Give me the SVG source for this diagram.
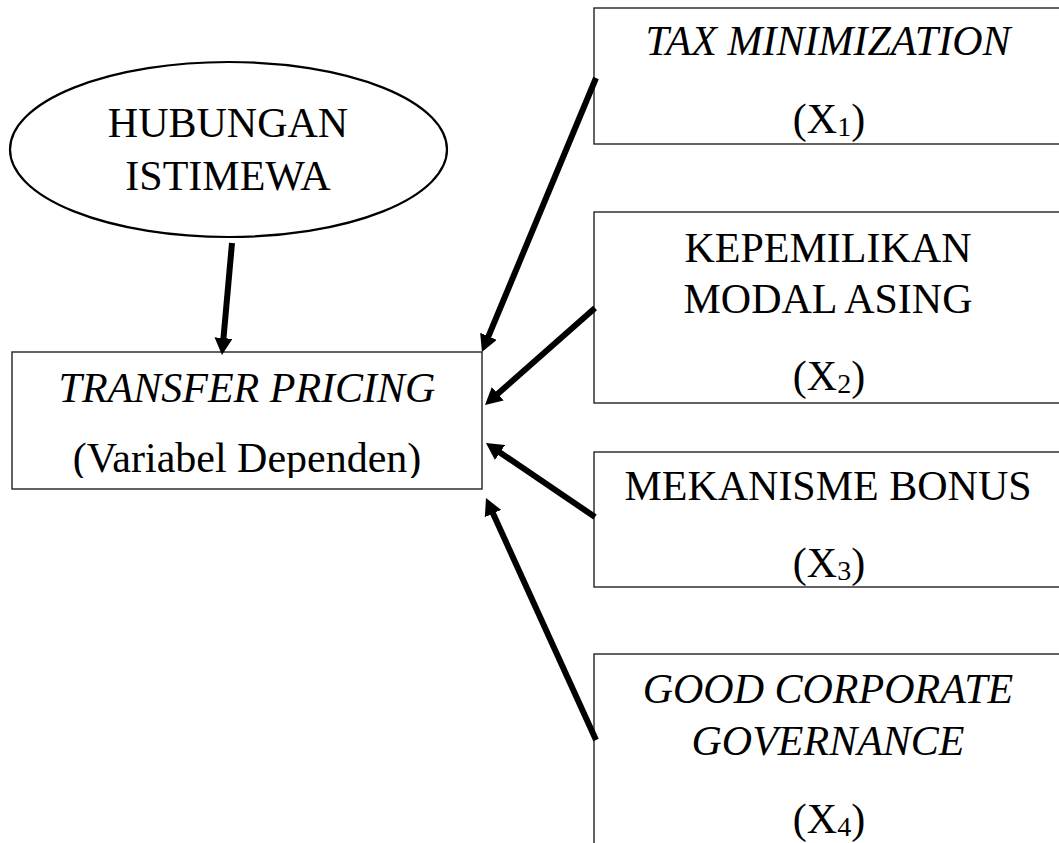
<svg xmlns="http://www.w3.org/2000/svg" width="1059" height="843" viewBox="0 0 1059 843">
<style>
.box{fill:#fff;stroke:#222;stroke-width:1.4}
.ell{fill:#fff;stroke:#000;stroke-width:2.2}
.t{font-family:'Liberation Serif','Times New Roman',serif;font-size:42px;fill:#000;text-anchor:middle}
.i{font-style:italic}
.sub{font-size:28px}
.c{stroke:#000;stroke-width:6;fill:none;marker-end:url(#ah)}
</style>
<defs>
<marker id="ah" viewBox="0 0 17 18" refX="1" refY="9" markerWidth="17" markerHeight="18" markerUnits="userSpaceOnUse" orient="auto">
<path d="M0,0 L17,9 L0,18 z" fill="#000"/>
</marker>
<clipPath id="mclip"><rect x="12" y="352" width="470" height="126"/></clipPath>
</defs>
<rect width="1059" height="843" fill="#fff"/>
<g id="hubungan">
<ellipse class="ell" cx="228.5" cy="149.5" rx="218.5" ry="87.5"/>
<text class="t" x="228" y="137">HUBUNGAN</text>
<text class="t" x="228" y="190">ISTIMEWA</text>
</g>
<g id="transfer">
<rect class="box" x="12" y="352" width="470" height="137"/>
<text class="t i" x="247" y="402">TRANSFER PRICING</text>
<text class="t" x="247" y="472" clip-path="url(#mclip)">(Variabel Dependen)</text>
</g>
<g id="x1">
<rect class="box" x="594" y="8" width="470" height="136"/>
<text class="t i" x="828" y="55">TAX MINIMIZATION</text>
<text class="t" x="829" y="133">(X<tspan class="sub" dy="3">1</tspan><tspan dy="-3">)</tspan></text>
</g>
<g id="x2">
<rect class="box" x="594" y="212" width="470" height="191"/>
<text class="t" x="828" y="262">KEPEMILIKAN</text>
<text class="t" x="828" y="313">MODAL ASING</text>
<text class="t" x="829" y="390">(X<tspan class="sub" dy="3">2</tspan><tspan dy="-3">)</tspan></text>
</g>
<g id="x3">
<rect class="box" x="594" y="452" width="470" height="135"/>
<text class="t" x="828" y="500">MEKANISME BONUS</text>
<text class="t" x="829" y="577">(X<tspan class="sub" dy="3">3</tspan><tspan dy="-3">)</tspan></text>
</g>
<g id="x4">
<rect class="box" x="594" y="654" width="470" height="210"/>
<text class="t i" x="828" y="703">GOOD CORPORATE</text>
<text class="t i" x="828" y="755">GOVERNANCE</text>
<text class="t" x="829" y="833">(X<tspan class="sub" dy="3">4</tspan><tspan dy="-3">)</tspan></text>
</g>
<g id="connectors">
<line class="c" x1="232" y1="243" x2="223.4" y2="339.1"/>
<line class="c" x1="596" y1="78" x2="488.1" y2="337.2"/>
<line class="c" x1="595" y1="308" x2="497" y2="394.4"/>
<line class="c" x1="595" y1="517" x2="499.2" y2="452"/>
<line class="c" x1="596" y1="740" x2="492.6" y2="512.6"/>
</g>
</svg>
